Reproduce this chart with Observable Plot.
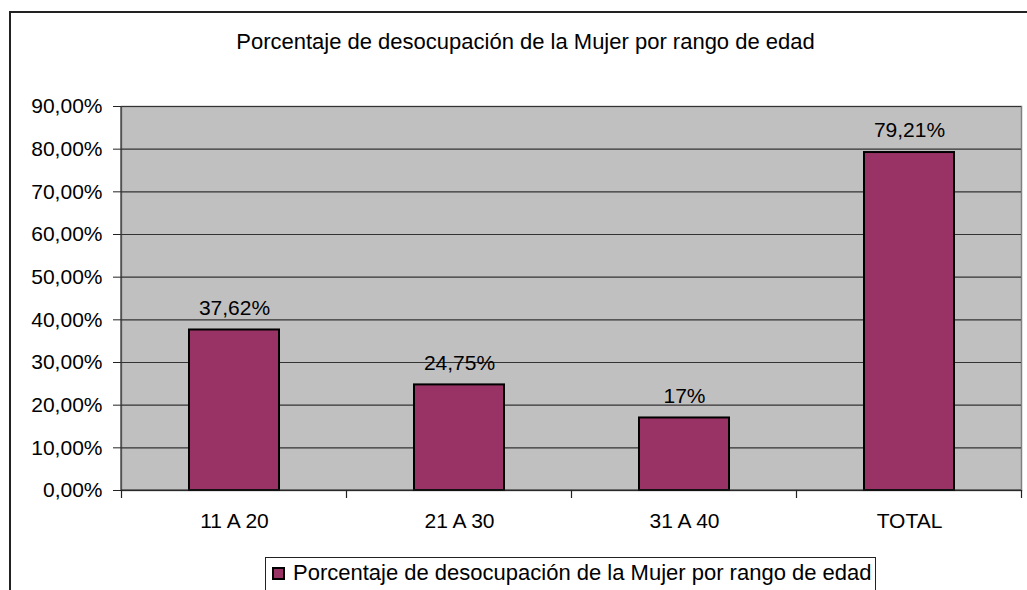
<!DOCTYPE html>
<html>
<head>
<meta charset="utf-8">
<script src="https://cdn.jsdelivr.net/npm/d3@7"></script>
<script src="https://cdn.jsdelivr.net/npm/@observablehq/plot@0.6"></script>
<style>
  html, body { margin: 0; padding: 0; background: #fff; overflow: hidden; }
  body { width: 1027px; height: 590px; position: relative; font-family: "Liberation Sans", Arial, sans-serif; }
  #outer { position: absolute; left: 9px; top: 11px; width: 1100px; height: 700px; border: 2px solid #222; box-sizing: border-box; pointer-events: none; }
  #title { position: absolute; left: 0; width: 1051px; top: 29px; text-align: center; font-size: 22px; color: #000; white-space: nowrap; }
  #chart { position: absolute; left: 0; top: 0; }
  #legend { position: absolute; left: 265px; top: 557px; width: 611px; height: 40px; border: 1px solid #222; box-sizing: border-box; background: #fff; font-size: 22px; white-space: nowrap; }
  #legend .sw { position: absolute; left: 6px; top: 9px; width: 13px; height: 13px; background: #993366; border: 2px solid #000; box-sizing: border-box; }
  #legend .lbl { position: absolute; left: 27px; top: 2px; }
</style>
</head>
<body>
<div id="chart"></div>
<div id="title"></div>
<div id="legend"><div class="sw"></div><div class="lbl"></div></div>
<div id="outer"></div>
<script>
const titleText = "Porcentaje de desocupación de la Mujer por rango de edad";
const categories = ["11 A 20", "21 A 30", "31 A 40", "TOTAL"];
const values = [37.62, 24.75, 17, 79.21];
const valueLabels = ["37,62%", "24,75%", "17%", "79,21%"];
const yTicks = [0, 10, 20, 30, 40, 50, 60, 70, 80, 90];

const data = categories.map((c, i) => ({cat: c, v: values[i], lab: valueLabels[i]}));
const fmt = d => d.toFixed(2).replace(".", ",") + "%";

document.getElementById("title").textContent = titleText;
document.querySelector("#legend .lbl").textContent = titleText;

// band-boundary tick marks + axis lines
function xBoundaryTicks(index, scales, values, dims) {
  const g = d3.create("svg:g");
  const x = scales.x, y = scales.y;
  const step = x.step(), bw = x.bandwidth();
  const half = (step - bw) / 2;
  const bounds = categories.map(c => x(c) - half);
  bounds.push(x(categories[categories.length - 1]) + bw + half);
  const y0 = y(0);
  for (const b of bounds) {
    g.append("line").attr("x1", b).attr("x2", b).attr("y1", y0).attr("y2", y0 + 8)
      .attr("stroke", "#222").attr("stroke-width", 1.2);
  }
  g.append("line").attr("x1", dims.marginLeft).attr("x2", dims.marginLeft)
    .attr("y1", y(yTicks[yTicks.length - 1])).attr("y2", y0)
    .attr("stroke", "#333").attr("stroke-width", 1.2);
  g.append("line").attr("x1", dims.marginLeft).attr("x2", dims.width - dims.marginRight)
    .attr("y1", y0).attr("y2", y0).attr("stroke", "#222").attr("stroke-width", 1.2);
  return g.node();
}

const chart = Plot.plot({
  width: 1027,
  height: 590,
  marginLeft: 121,
  marginRight: 6,
  marginTop: 106,
  marginBottom: 100,
  style: {background: "transparent", fontFamily: "'Liberation Sans', Arial, sans-serif", fontSize: "21px", color: "#000"},
  x: {domain: categories, paddingInner: 0.6, paddingOuter: 0.3, label: null},
  y: {domain: [0, 90], label: null},
  marks: [
    Plot.frame({fill: "#c0c0c0", stroke: "#808080", strokeWidth: 1.5}),
    Plot.gridY(yTicks, {stroke: "#333", strokeOpacity: 1, strokeWidth: 1.2}),
    Plot.barY(data, {x: "cat", y: "v", fill: "#993366", stroke: "#000", strokeWidth: 2}),
    Plot.text(data, {x: "cat", y: "v", text: "lab", dy: -22, fontSize: 21, fill: "#000"}),
    Plot.axisY(yTicks, {tickFormat: fmt, tickSize: 8, tickPadding: 11, fontSize: 21, stroke: "#222", fill: "#000"}),
    Plot.axisX({tickSize: 0, tickPadding: 23, fontSize: 21, fill: "#000"}),
    xBoundaryTicks
  ]
});
document.getElementById("chart").appendChild(chart);
</script>
</body>
</html>
